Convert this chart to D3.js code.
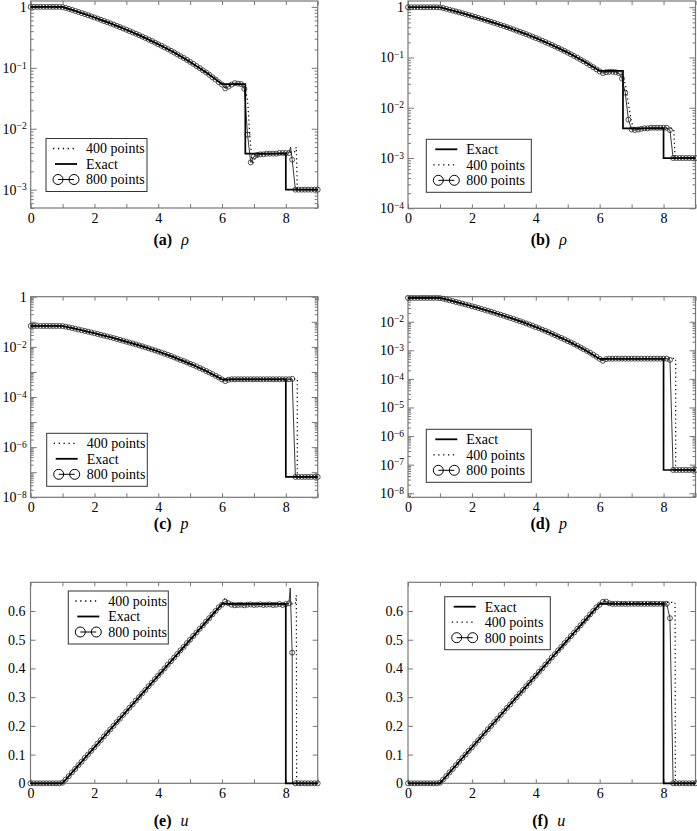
<!DOCTYPE html>
<html>
<head>
<meta charset="utf-8">
<title>Density, pressure and velocity: exact vs 400 / 800 points</title>
<style>
  body { margin: 0; background: #fff; }
  svg text { font-family: "Liberation Serif", "DejaVu Serif", "Times New Roman", Times, serif; }
</style>
</head>
<body>
<script src="https://cdn.jsdelivr.net/npm/d3@7"></script>
<script>

// marker grid of the 800-point runs (one circle every ~0.1)
var xGrid = d3.range(91).map(function(i) { return i / 10; });

// ---- density rho ----
var rhoExactX = [0, 1, 1.5, 2, 2.5, 3, 3.5, 4, 4.5, 5, 5.5, 6.0, 6.73, 6.73, 8.0, 8.0, 9];
var rhoExactY = [1, 1, 0.824, 0.670, 0.536, 0.422, 0.325, 0.244, 0.178, 0.125, 0.084, 0.054, 0.054, 0.0039, 0.0039, 0.001, 0.001];

var rho800Head = [1, 1, 1, 1, 1, 1, 1, 1, 1, 1,
  0.99, 0.963, 0.927, 0.892, 0.857, 0.824, 0.791, 0.760, 0.729, 0.699,
  0.670, 0.642, 0.614, 0.587, 0.562, 0.536, 0.512, 0.488, 0.465, 0.443,
  0.422, 0.401, 0.381, 0.362, 0.343, 0.325, 0.308, 0.291, 0.275, 0.259,
  0.244, 0.230, 0.216, 0.203, 0.190, 0.178, 0.166, 0.155, 0.145, 0.135,
  0.125, 0.116, 0.107, 0.099, 0.091, 0.084, 0.077, 0.070, 0.064, 0.058,
  0.053];
var rho800TailA = [0.046, 0.049, 0.053, 0.056, 0.055, 0.054, 0.045, 0.008, 0.0028, 0.0035,
  0.0037, 0.0038, 0.0038, 0.0039, 0.0039, 0.0039, 0.0039, 0.004, 0.004, 0.004,
  0.004, 0.0031, 0.001, 0.001, 0.001, 0.001, 0.001, 0.001, 0.001, 0.001];
var rho800TailB = [0.049, 0.051, 0.052, 0.052, 0.051, 0.049, 0.038, 0.02, 0.0058, 0.0037,
  0.0036, 0.0037, 0.0038, 0.0039, 0.0039, 0.004, 0.004, 0.004, 0.004, 0.004,
  0.004, 0.0036, 0.001, 0.001, 0.001, 0.001, 0.001, 0.001, 0.001, 0.001];

var rho400AX = [0, 1, 1.5, 2, 2.5, 3, 3.5, 4, 4.5, 5, 5.5, 6, 6.1, 6.3, 6.5, 6.7, 6.8, 6.87, 6.95, 7.05, 7.2, 8.0, 8.28, 8.33, 8.36, 9];
var rho400AY = [1, 0.99, 0.825, 0.672, 0.538, 0.424, 0.327, 0.246, 0.18, 0.127, 0.086, 0.055, 0.048, 0.053, 0.055, 0.051, 0.03, 0.008, 0.0026, 0.0034, 0.0038, 0.004, 0.0042, 0.005, 0.001, 0.001];
var rho400BX = [0, 1, 1.5, 2, 2.5, 3, 3.5, 4, 4.5, 5, 5.5, 6, 6.2, 6.5, 6.7, 6.8, 6.9, 7.0, 7.1, 7.2, 8.25, 8.32, 8.36, 9];
var rho400BY = [1, 0.99, 0.825, 0.672, 0.538, 0.424, 0.327, 0.246, 0.18, 0.127, 0.086, 0.055, 0.052, 0.052, 0.045, 0.03, 0.012, 0.005, 0.0038, 0.0039, 0.0039, 0.0037, 0.001, 0.001];

// ---- pressure p ----
var pExactX = [0, 1, 1.5, 2, 2.5, 3, 3.5, 4, 4.5, 5, 5.5, 6.0, 8.0, 8.0, 9];
var pExactY = [0.068, 0.068, 0.0492, 0.0349, 0.0241, 0.0161, 0.0105, 0.0065, 0.0038, 0.0021, 0.00109, 0.0005, 0.0005, 6.5e-8, 6.5e-8];

var p800Head = [0.068, 0.068, 0.068, 0.068, 0.068, 0.068, 0.068, 0.068, 0.068, 0.068,
  0.067, 0.0638, 0.0599, 0.0562, 0.0526, 0.0492, 0.0460, 0.0430, 0.0402, 0.0375,
  0.0349, 0.0325, 0.0302, 0.0280, 0.0260, 0.0241, 0.0223, 0.0206, 0.0190, 0.0175,
  0.0161, 0.0148, 0.0136, 0.0125, 0.0114, 0.0105, 0.0095, 0.0087, 0.0079, 0.0072,
  0.0065, 0.0059, 0.0053, 0.0048, 0.0043, 0.0038, 0.0034, 0.0030, 0.0027, 0.0024,
  0.0021, 0.00188, 0.00165, 0.00144, 0.00126, 0.00109, 0.00095, 0.00082, 0.00070, 0.00060,
  0.00050];
var p800TailC = [0.00043, 0.00049, 0.00051, 0.00051, 0.00051, 0.00051, 0.00051, 0.00051, 0.00051, 0.00051,
  0.00051, 0.00051, 0.00051, 0.00051, 0.00051, 0.00051, 0.00051, 0.00051, 0.00051, 0.00051,
  0.00051, 0.00053, 6.5e-8, 6.5e-8, 6.5e-8, 6.5e-8, 6.5e-8, 6.5e-8, 6.5e-8, 6.5e-8];
var p800TailD = [0.00043, 0.00049, 0.00051, 0.00051, 0.00051, 0.00051, 0.00051, 0.00051, 0.00051, 0.00051,
  0.00051, 0.00051, 0.00051, 0.00051, 0.00051, 0.00051, 0.00051, 0.00051, 0.00051, 0.00051,
  0.00051, 0.00046, 6.5e-8, 6.5e-8, 6.5e-8, 6.5e-8, 6.5e-8, 6.5e-8, 6.5e-8, 6.5e-8];

var p400CX = [0, 1, 1.5, 2, 2.5, 3, 3.5, 4, 4.5, 5, 5.5, 6, 6.1, 6.3, 8.3, 8.36, 8.36, 9];
var p400CY = [0.068, 0.067, 0.0494, 0.0351, 0.0243, 0.0163, 0.0106, 0.0066, 0.0039, 0.0022, 0.0011, 0.00051, 0.00045, 0.00051, 0.00052, 0.00052, 6.5e-8, 6.5e-8];
var p400DX = [0, 1, 1.5, 2, 2.5, 3, 3.5, 4, 4.5, 5, 5.5, 6, 6.1, 6.3, 8.32, 8.38, 8.38, 9];
var p400DY = [0.068, 0.067, 0.0494, 0.0351, 0.0243, 0.0163, 0.0106, 0.0066, 0.0039, 0.0022, 0.0011, 0.00051, 0.00045, 0.00051, 0.00052, 0.00052, 6.5e-8, 6.5e-8];

// ---- velocity u ----
var uExactX = [0, 1, 6.0, 8.0, 8.0, 9];
var uExactY = [0, 0, 0.625, 0.625, 0, 0];

var u800Head = [0, 0, 0, 0, 0, 0, 0, 0, 0, 0,
  0.002, 0.013, 0.025, 0.038, 0.050, 0.063, 0.075, 0.088, 0.100, 0.113,
  0.125, 0.138, 0.150, 0.163, 0.175, 0.188, 0.200, 0.213, 0.225, 0.238,
  0.250, 0.263, 0.275, 0.288, 0.300, 0.313, 0.325, 0.338, 0.350, 0.363,
  0.375, 0.388, 0.400, 0.413, 0.425, 0.438, 0.450, 0.463, 0.475, 0.488,
  0.500, 0.513, 0.525, 0.538, 0.550, 0.563, 0.575, 0.588, 0.600, 0.613,
  0.622];
var u800TailE = [0.633, 0.627, 0.622, 0.620, 0.621, 0.622, 0.620, 0.622, 0.623, 0.621,
  0.622, 0.623, 0.621, 0.622, 0.623, 0.621, 0.622, 0.624, 0.621, 0.624,
  0.627, 0.455, 0, 0, 0, 0, 0, 0, 0, 0];
var u800TailF = [0.632, 0.633, 0.627, 0.625, 0.625, 0.625, 0.625, 0.625, 0.625, 0.625,
  0.625, 0.625, 0.625, 0.625, 0.625, 0.625, 0.625, 0.625, 0.625, 0.625,
  0.625, 0.575, 0, 0, 0, 0, 0, 0, 0, 0];

var u400EX = [0, 1, 6.0, 6.1, 6.2, 8.3, 8.33, 8.34, 9];
var u400EY = [0, 0, 0.62, 0.645, 0.625, 0.625, 0.655, 0, 0];
var u400FX = [0, 1, 6.0, 6.15, 6.3, 8.36, 8.37, 9];
var u400FY = [0, 0, 0.62, 0.635, 0.63, 0.63, 0, 0];

var uTicks = [0, 0.1, 0.2, 0.3, 0.4, 0.5, 0.6];
var xTicks = [0, 1, 2, 3, 4, 5, 6, 7, 8, 9];

var FONT = "'Liberation Serif', 'DejaVu Serif', 'Times New Roman', serif";

var panels = [
  {cap: "(a)", sym: "\u03c1", L: 30.7, R: 317.7, T: 1, B: 208, capY: 245, log: true, dom: [5e-4, 1.25], every: 1,
   ex: [rhoExactX, rhoExactY], d4: [rho400AX, rho400AY], d8: rho800Head.concat(rho800TailA), spike: [[8.15, 0.005]],
   leg: {x: 46, y: 138.5, w: 101, order: ["400", "exact", "800"]}},
  {cap: "(b)", sym: "\u03c1", L: 408, R: 695.5, T: 1, B: 208.3, capY: 245, log: true, dom: [1e-4, 1.33], every: 1,
   ex: [rhoExactX, rhoExactY], d4: [rho400BX, rho400BY], d8: rho800Head.concat(rho800TailB), spike: [],
   leg: {x: 426.3, y: 139.3, w: 105, order: ["exact", "400", "800"]}},
  {cap: "(c)", sym: "p", L: 30.7, R: 317.7, T: 296.7, B: 497.3, capY: 529, log: true, dom: [1e-8, 1], every: 2,
   ex: [pExactX, pExactY], d4: [p400CX, p400CY], d8: p800Head.concat(p800TailC), spike: [],
   leg: {x: 46.7, y: 433.3, w: 100.6, order: ["400", "exact", "800"]}},
  {cap: "(d)", sym: "p", L: 408, R: 695.5, T: 296.7, B: 497.3, capY: 529, log: true, dom: [7.2e-9, 0.075], every: 1,
   ex: [pExactX, pExactY], d4: [p400DX, p400DY], d8: p800Head.concat(p800TailD), spike: [],
   leg: {x: 426.3, y: 429.3, w: 105, order: ["exact", "400", "800"]}},
  {cap: "(e)", sym: "u", L: 30.5, R: 317.7, T: 582.3, B: 783.3, capY: 826, log: false, dom: [0, 0.7],
   ex: [uExactX, uExactY], d4: [u400EX, u400EY], d8: u800Head.concat(u800TailE), spike: [[8.14, 0.68], [8.21, 0]],
   leg: {x: 68.3, y: 591, w: 100, order: ["400", "exact", "800"]}},
  {cap: "(f)", sym: "u", L: 408, R: 695.5, T: 582.3, B: 783.3, capY: 826, log: false, dom: [0, 0.7],
   ex: [uExactX, uExactY], d4: [u400FX, u400FY], d8: u800Head.concat(u800TailF), spike: [],
   leg: {x: 444.7, y: 596.7, w: 105.6, order: ["exact", "400", "800"]}}
];

var svg = d3.select("body").append("svg")
    .attr("width", 697)
    .attr("height", 831)
    .attr("font-family", FONT);

svg.append("rect").attr("width", 697).attr("height", 831).attr("fill", "#fff");

var labels = {"400": "400 points", "exact": "Exact", "800": "800 points"};

function styleAxis(g) {
  g.select(".domain").remove();
  g.selectAll(".tick line").attr("stroke", "#777").attr("stroke-width", 1);
  g.attr("font-family", FONT).attr("font-size", 14);
  g.selectAll(".tick text").attr("fill", "#000");
}

function drawPanel(p) {
  var g = svg.append("g");
  var x = d3.scaleLinear().domain([0, 9]).range([p.L, p.R]);
  var y = p.log ? d3.scaleLog().domain(p.dom).range([p.B, p.T])
                : d3.scaleLinear().domain(p.dom).range([p.B, p.T]);

  // x ticks, pointing inward on bottom and top
  g.append("g").attr("transform", "translate(0," + p.B + ")")
    .call(d3.axisBottom(x).tickValues(xTicks).tickSize(-4).tickPadding(5)
      .tickFormat(function(d) { return d % 2 === 0 ? d : ""; }))
    .call(styleAxis);
  g.append("g").attr("transform", "translate(0," + p.T + ")")
    .call(d3.axisTop(x).tickValues(xTicks).tickSize(-4).tickFormat(""))
    .call(styleAxis);

  if (p.log) {
    var lo = Math.floor(Math.log10(p.dom[0])), hi = Math.ceil(Math.log10(p.dom[1]));
    var major = [], minor = [];
    for (var e = lo; e <= hi; e++) {
      var v = Math.pow(10, e);
      if (v >= p.dom[0] && v <= p.dom[1] * 1.0001) major.push(v);
      for (var m = 2; m <= 9; m++) {
        var mv = m * Math.pow(10, e);
        if (mv >= p.dom[0] && mv <= p.dom[1]) minor.push(mv);
      }
    }
    var left = g.append("g").attr("transform", "translate(" + p.L + ",0)")
      .call(d3.axisLeft(y).tickValues(major).tickSize(-6).tickPadding(4).tickFormat(""))
      .call(styleAxis);
    left.selectAll(".tick text").each(function(d) {
      var ex = Math.round(Math.log10(d));
      var t = d3.select(this);
      if (Math.abs(ex) % p.every !== 0) return;
      if (ex === 0) { t.text("1"); return; }
      t.append("tspan").text("10");
      t.append("tspan").attr("dy", "-0.45em").attr("font-size", 9.5).text("\u2212" + Math.abs(ex));
    });
    g.append("g").attr("transform", "translate(" + p.L + ",0)")
      .call(d3.axisLeft(y).tickValues(minor).tickSize(-3).tickFormat(""))
      .call(styleAxis);
    g.append("g").attr("transform", "translate(" + p.R + ",0)")
      .call(d3.axisRight(y).tickValues(major).tickSize(-6).tickFormat(""))
      .call(styleAxis);
    g.append("g").attr("transform", "translate(" + p.R + ",0)")
      .call(d3.axisRight(y).tickValues(minor).tickSize(-3).tickFormat(""))
      .call(styleAxis);
  } else {
    g.append("g").attr("transform", "translate(" + p.L + ",0)")
      .call(d3.axisLeft(y).tickValues(uTicks).tickSize(-5).tickPadding(5)
        .tickFormat(function(d) { return d === 0 ? "0" : d3.format(".1f")(d); }))
      .call(styleAxis);
    g.append("g").attr("transform", "translate(" + p.R + ",0)")
      .call(d3.axisRight(y).tickValues(uTicks).tickSize(-5).tickFormat(""))
      .call(styleAxis);
  }

  // frame
  g.append("rect")
    .attr("x", p.L).attr("y", p.T)
    .attr("width", p.R - p.L).attr("height", p.B - p.T)
    .attr("fill", "none").attr("stroke", "#777").attr("stroke-width", 1.2);

  var line = d3.line().x(function(d) { return x(d[0]); }).y(function(d) { return y(d[1]); });

  // 800 points: thin line through all samples + circles at the grid
  var pts800 = xGrid.map(function(xv, i) { return [xv, p.d8[i]]; });
  var line800 = pts800.concat(p.spike).sort(function(a, b) { return a[0] - b[0]; });

  g.selectAll("circle.m800")
      .data(pts800)
    .enter().append("circle")
      .attr("class", "m800")
      .attr("cx", function(d) { return x(d[0]); })
      .attr("cy", function(d) { return y(d[1]); })
      .attr("r", 2.5)
      .attr("fill", "none")
      .attr("stroke", "#333")
      .attr("stroke-width", 0.85);

  g.append("path").datum(line800).attr("d", line)
    .attr("fill", "none").attr("stroke", "#222").attr("stroke-width", 0.9);

  g.append("path").datum(d3.zip(p.d4[0], p.d4[1])).attr("d", line)
    .attr("fill", "none").attr("stroke", "#000").attr("stroke-width", 1.2)
    .attr("stroke-dasharray", "1.2,3");

  g.append("path").datum(d3.zip(p.ex[0], p.ex[1])).attr("d", line)
    .attr("fill", "none").attr("stroke", "#000").attr("stroke-width", 1.7);

  // legend
  var lg = p.leg;
  var lgG = g.append("g");
  lgG.append("rect").attr("x", lg.x).attr("y", lg.y).attr("width", lg.w).attr("height", 53)
    .attr("fill", "#fff").attr("stroke", "#333").attr("stroke-width", 1);
  var rowY = [10, 25.5, 41];
  lg.order.forEach(function(k, i) {
    var ry = lg.y + rowY[i];
    if (k === "400") {
      lgG.append("line").attr("x1", lg.x + 7).attr("x2", lg.x + 31).attr("y1", ry).attr("y2", ry)
        .attr("stroke", "#000").attr("stroke-width", 1.3).attr("stroke-dasharray", "1.3,3.6");
    } else if (k === "exact") {
      lgG.append("line").attr("x1", lg.x + 9).attr("x2", lg.x + 31).attr("y1", ry).attr("y2", ry)
        .attr("stroke", "#000").attr("stroke-width", 1.8);
    } else {
      lgG.append("line").attr("x1", lg.x + 12).attr("x2", lg.x + 28).attr("y1", ry).attr("y2", ry)
        .attr("stroke", "#000").attr("stroke-width", 1);
      [12, 28].forEach(function(dx) {
        lgG.append("circle").attr("cx", lg.x + dx).attr("cy", ry).attr("r", 5)
          .attr("fill", "none").attr("stroke", "#000").attr("stroke-width", 1);
      });
    }
    lgG.append("text").attr("x", lg.x + 40).attr("y", ry).attr("dy", "0.35em")
      .attr("font-size", 14).text(labels[k]);
  });

  // caption
  var cap = svg.append("text")
    .attr("x", (p.L + p.R) / 2 - 3)
    .attr("y", p.capY)
    .attr("text-anchor", "middle")
    .attr("font-size", 16);
  cap.append("tspan").attr("font-weight", "bold").text(p.cap);
  cap.append("tspan").attr("dx", 9).attr("font-style", "italic").text(p.sym);
}

panels.forEach(drawPanel);

</script>
</body>
</html>
